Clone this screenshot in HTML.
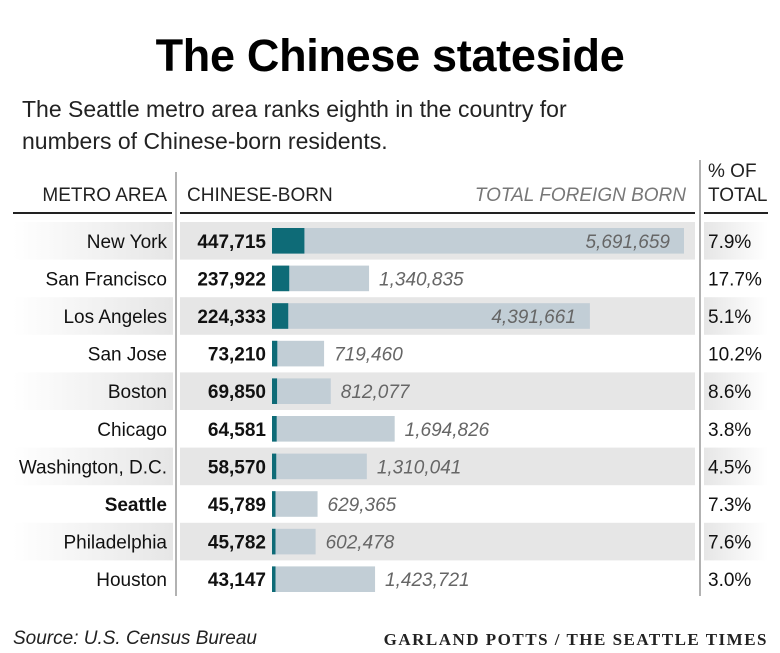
<!DOCTYPE html>
<html><head><meta charset="utf-8"><style>
body{margin:0;background:#fff;font-family:"Liberation Sans",sans-serif;}
#wrap{position:relative;width:780px;height:653px;overflow:hidden;}
.t{position:absolute;white-space:nowrap;}
</style></head><body>
<div id="wrap">
<div class="t" style="left:0;width:780px;text-align:center;top:30px;font-size:45px;font-weight:bold;letter-spacing:-0.3px">The Chinese stateside</div>
<div class="t" style="left:22px;top:93px;font-size:23px;line-height:32px;color:#222">The Seattle metro area ranks eighth in the country for<br>numbers of Chinese-born residents.</div>
<svg id="svg" width="780" height="653" style="position:absolute;left:0;top:0">
<defs>
<linearGradient id="gl" x1="0" x2="1"><stop offset="0" stop-color="#fff"/><stop offset="1" stop-color="#e6e6e6"/></linearGradient>
<linearGradient id="gr" x1="0" x2="1"><stop offset="0" stop-color="#e6e6e6"/><stop offset="1" stop-color="#fff"/></linearGradient>
</defs>
<g id="rows"></g>
<line x1="176" y1="172" x2="176" y2="596" stroke="#999" stroke-width="1.5"/>
<line x1="700" y1="160" x2="700" y2="596" stroke="#999" stroke-width="1.5"/>
<line x1="13" y1="213" x2="172" y2="213" stroke="#222" stroke-width="2"/>
<line x1="180" y1="213" x2="695" y2="213" stroke="#222" stroke-width="2"/>
<line x1="704" y1="213" x2="768" y2="213" stroke="#222" stroke-width="2"/>
<text x="167" y="201" text-anchor="end" font-size="19" fill="#222">METRO AREA</text>
<text x="187" y="201" font-size="19" fill="#222">CHINESE-BORN</text>
<text x="686" y="201" text-anchor="end" font-size="19" font-style="italic" fill="#777">TOTAL FOREIGN BORN</text>
<text x="708" y="177" font-size="19" fill="#222">% OF</text>
<text x="708" y="201" font-size="19" fill="#222">TOTAL</text>
</svg>
<div class="t" style="left:13px;top:628px;font-size:19px;font-style:italic;color:#222">Source: U.S. Census Bureau</div>
<div class="t" style="right:12px;top:630px;font-family:'Liberation Serif',serif;font-size:17px;font-weight:bold;letter-spacing:1.5px;color:#222">GARLAND POTTS / THE SEATTLE TIMES</div>
</div>
<script>
const metros=["New York","San Francisco","Los Angeles","San Jose","Boston","Chicago","Washington, D.C.","Seattle","Philadelphia","Houston"];
const chinese=[447715,237922,224333,73210,69850,64581,58570,45789,45782,43147];
const foreign=[5691659,1340835,4391661,719460,812077,1694826,1310041,629365,602478,1423721];
const pct=["7.9%","17.7%","5.1%","10.2%","8.6%","3.8%","4.5%","7.3%","7.6%","3.0%"];
const NS="http://www.w3.org/2000/svg";
const g=document.getElementById('rows');
const x0=272, xs=v=>v*412/5691659, y0=222, rh=37.6;
const fmt=v=>v.toLocaleString('en-US');
function mk(tag,attrs,txt){const e=document.createElementNS(NS,tag);for(const k in attrs)e.setAttribute(k,attrs[k]);if(txt!==undefined)e.textContent=txt;g.appendChild(e);return e;}
metros.forEach((m,i)=>{
  const y=y0+i*rh, cy=y+rh/2+7;
  if(i%2===0){
    let a=mk('rect',{x:13,y:y,width:160,height:rh,fill:'url(#gl)'});
    
    let b=mk('rect',{x:180,y:y,width:515,height:rh,fill:'#e6e6e6'});
    
    let c=mk('rect',{x:704,y:y,width:64,height:rh,fill:'url(#gr)'});
    
  }
  const bold=m==="Seattle";
  let l=mk('text',{x:167,y:cy,'text-anchor':'end','font-size':19,fill:'#111','font-weight':bold?'bold':'normal'},m);
  
  let n=mk('text',{x:266,y:cy,'text-anchor':'end','font-size':19,'font-weight':'bold',fill:'#111'},fmt(chinese[i]));
  
  const fw=xs(foreign[i]);
  let fb=mk('rect',{x:x0,y:y+6,width:fw,height:rh-12,fill:'#c2ced6'});
  
  let cb=mk('rect',{x:x0,y:y+6,width:Math.max(xs(chinese[i]),3.5),height:rh-12,fill:'#0e6b77'});
  
  const inside=fw>250;
  let ft=mk('text',{x:inside?x0+fw-14:x0+fw+10,y:cy,'text-anchor':inside?'end':'start','font-size':19,'font-style':'italic',fill:'#666'},fmt(foreign[i]));
  
  let p=mk('text',{x:708,y:cy,'font-size':19,fill:'#111'},pct[i]);
  
});
</script>
</body></html>
